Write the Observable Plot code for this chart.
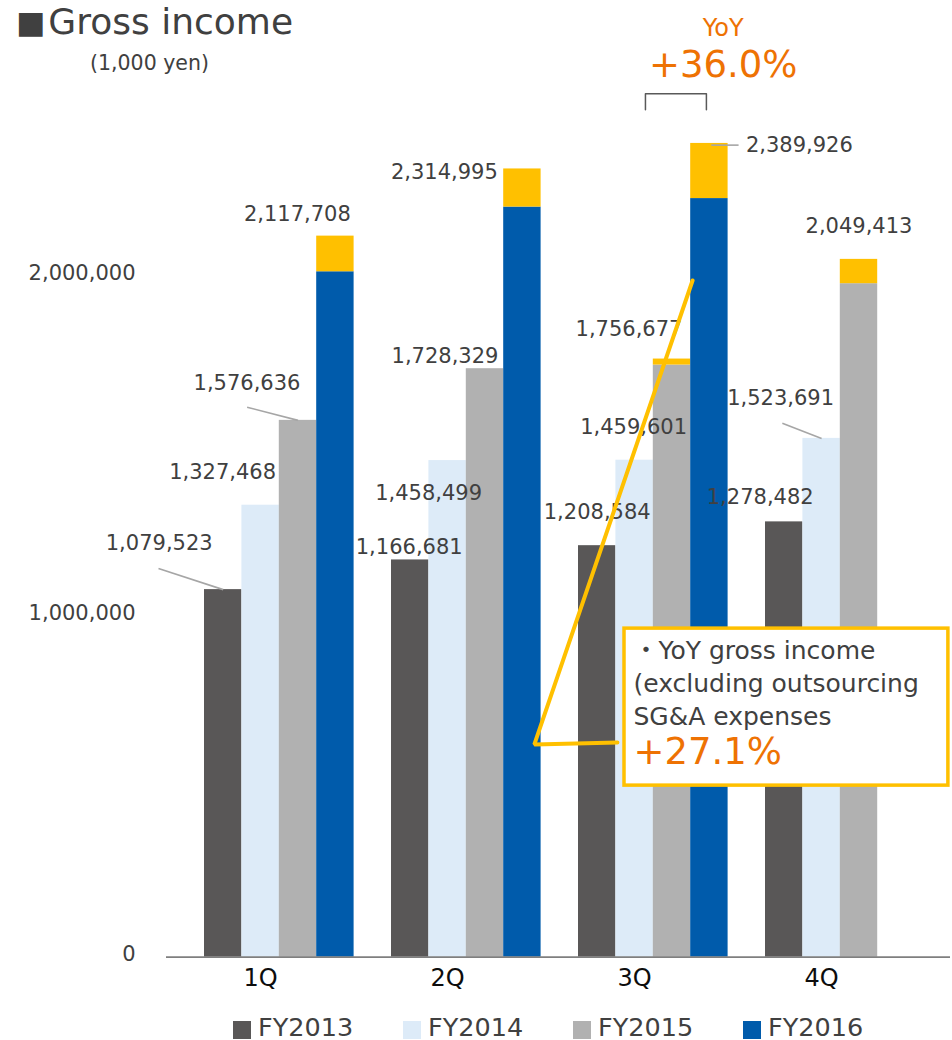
<!DOCTYPE html>
<html>
<head>
<meta charset="utf-8">
<script src="https://cdn.jsdelivr.net/npm/d3@7"></script>
<script src="https://cdn.jsdelivr.net/npm/@observablehq/plot@0.6"></script>
<style>
  html, body { margin: 0; padding: 0; background: #fff; }
  body { width: 952px; height: 1040px; overflow: hidden; font-family: "DejaVu Sans", "Noto Sans CJK JP", sans-serif; }
  #wrap { position: relative; width: 952px; }
  #title { position: absolute; left: 16px; top: 0px; font-size: 36px; color: #404040; white-space: nowrap; line-height: 44px; }
  #title .sq { font-size: 31px; margin-right: 3px; position: relative; top: -1px; }
  #unit { position: absolute; left: 90px; top: 50px; font-size: 20.5px; color: #404040; line-height: 26px; }
  #legend { display: flex; padding-left: 233px; height: 28px; margin-top: 3px; }
  #legend .item { width: 170px; display: flex; align-items: center; font-size: 25.5px; color: #404040; line-height: 28px; white-space: nowrap; }
  #legend .sw { display: inline-block; width: 18px; height: 18px; margin-right: 7px; margin-top: 5px; }
</style>
</head>
<body>
<div id="wrap">
  <div id="chart"></div>
  <div id="title"><span class="sq">■</span>Gross income</div>
  <div id="unit">(1,000 yen)</div>
  <div id="legend"></div>
</div>
<script>
// ---- data (1,000 yen) ----
const quarters = ["1Q", "2Q", "3Q", "4Q"];
const seriesNames = ["FY2013", "FY2014", "FY2015", "FY2016"];
const fy2013 = [1079523, 1166681, 1208584, 1278482];
const fy2014 = [1327468, 1458499, 1459601, 1523691];
const fy2015 = [1576636, 1728329, 1756677, 2049413];
const fy2016 = [2117708, 2314995, 2389926, null];
// gross income excluding outsourcing SG&A expenses (part below the yellow cap)
const fy2015Excl = [null, null, 1739000, 1978000];
const fy2016Excl = [2013000, 2203000, 2228000, null];
const yAxisTicks = [0, 1000000, 2000000];
const yoyLabel = "YoY";
const yoyValue = "+36.0%";
const calloutLines = ["・YoY gross income", "(excluding outsourcing", "SG&A expenses"];
const calloutValue = "+27.1%";
const outsourcingName = "Outsourcing SG&A";

// ---- styles ----
const colors = ["#595757", "#DDEBF8", "#B1B1B1", "#005BAB", "#FFC000"];
const orange = "#EE7203";
const textColor = "#404040";
const font = "'DejaVu Sans', 'Noto Sans CJK JP', sans-serif";

const totals = [fy2013, fy2014, fy2015, fy2016];
const excls = [null, null, fy2015Excl, fy2016Excl];
const slotsPerGroup = 5; // one empty slot + four series per quarter

const bars = [];
const labels = [];
quarters.forEach((q, qi) => {
  seriesNames.forEach((s, si) => {
    const total = totals[si][qi];
    if (total == null) return;
    const x1 = qi * slotsPerGroup + si + 1;
    const excl = excls[si] ? excls[si][qi] : null;
    bars.push({key: q + "|" + s, x1, x2: x1 + 1, y1: 0, y2: excl ?? total, part: s});
    if (excl != null) bars.push({key: q + "|" + s + "|o", x1, x2: x1 + 1, y1: excl, y2: total, part: outsourcingName});
    labels.push({key: q + "|" + s, x: x1 + 0.5, y: total, text: d3.format(",")(total)});
  });
});

// label nudges in pixels (layout)
const labelNudge = {
  "1Q|FY2013": [-64, -46], "1Q|FY2014": [-38, -33], "1Q|FY2015": [-51, -37], "1Q|FY2016": [-38, -22],
  "2Q|FY2013": [-1, -13], "2Q|FY2014": [-19, 33], "2Q|FY2015": [-40, -12], "2Q|FY2016": [-78, 3],
  "3Q|FY2013": [0, -33], "3Q|FY2014": [-1, -33], "3Q|FY2015": [-43, -30], "3Q|FY2016": [90, 2],
  "4Q|FY2013": [-24, -25], "4Q|FY2014": [-41, -40], "4Q|FY2015": [0, -33]
};
// leader lines: start offset from bar-top centre (in slots, in value units)
const leaderSpec = [
  {key: "1Q|FY2013", ds: -1.73, dv: 62000},
  {key: "1Q|FY2015", ds: -1.36, dv: 38700},
  {key: "4Q|FY2014", ds: -1.05, dv: 44600}
];
const labelByKey = Object.fromEntries(labels.map(l => [l.key, l]));
const leaders = leaderSpec.map(({key, ds, dv}) => {
  const l = labelByKey[key];
  return {x1: l.x + ds, y1: l.y + dv, x2: l.x, y2: l.y};
});
const l3 = labelByKey["3Q|FY2016"];
leaders.push({x1: l3.x + 0.05, y1: l3.y - 5000, x2: l3.x + 0.78, y2: l3.y - 5000});

// annotations placed in data units, relative to the 3Q group
const g3 = 2 * slotsPerGroup;
const bracket = [
  {x: g3 + 2.79, y: 2488800}, {x: g3 + 2.79, y: 2535800},
  {x: g3 + 4.42, y: 2535800}, {x: g3 + 4.42, y: 2488800}
];
const pointer = [
  {x: g3 + 2.04, y: 630800}, {x: g3 - 0.18, y: 624800}, {x: g3 + 4.05, y: 1987400}
];
const box = {x1: g3 + 2.23, x2: g3 + 10.89, y1: 503900, y2: 965000};
const boxTextX = g3 + 2.47;
const boxTextY = [898700, 802900, 704800];

const marks = [
  Plot.rectY(bars, {x1: "x1", x2: "x2", y1: "y1", y2: "y2", fill: "part"}),
  Plot.ruleY([0], {stroke: "#7f7f7f", strokeWidth: 1.8}),
  Plot.axisY(yAxisTicks, {tickFormat: d3.format(","), tickSize: 0, tickPadding: 31, dy: -3, fontSize: 21, fill: textColor, label: null}),
  Plot.axisX(quarters.map((q, i) => i * slotsPerGroup + 2.5), {
    tickFormat: d => quarters[Math.round((d - 2.5) / slotsPerGroup)],
    tickSize: 0, tickPadding: 11, fontSize: 24, fill: "#0d0d0d", label: null
  }),
  Plot.link(leaders, {x1: "x1", y1: "y1", x2: "x2", y2: "y2", stroke: "#A6A6A6", strokeWidth: 1.6}),
  ...labels.map(l => Plot.text([l], {
    x: "x", y: "y", text: "text", dx: labelNudge[l.key][0], dy: labelNudge[l.key][1],
    fontSize: 21, fill: textColor
  })),
  Plot.line(pointer, {x: "x", y: "y", stroke: "#FFC000", strokeWidth: 4, strokeLinejoin: "miter"}),
  Plot.rect([box], {x1: "x1", x2: "x2", y1: "y1", y2: "y2", fill: "white", stroke: "#FFC000", strokeWidth: 3.5}),
  Plot.text(calloutLines.map((t, i) => ({t, y: boxTextY[i]})), {x: boxTextX, y: "y", text: "t", textAnchor: "start", fontSize: 25, fill: textColor}),
  Plot.text([calloutValue], {x: boxTextX, y: 602100, text: d => d, textAnchor: "start", fontSize: 37, fill: orange}),
  Plot.line(bracket, {x: "x", y: "y", stroke: "#595959", strokeWidth: 1.5}),
  Plot.text([yoyLabel], {x: g3 + 4.87, y: 2727500, text: d => d, fontSize: 24, fill: orange}),
  Plot.text([yoyValue], {x: g3 + 4.87, y: 2618800, text: d => d, fontSize: 37, fill: orange})
];

const chart = Plot.plot({
  width: 952,
  height: 1010,
  marginLeft: 166,
  marginRight: 2,
  marginTop: 0,
  marginBottom: 53,
  x: {domain: [0, 20], range: [166.6, 914.6]},
  y: {domain: [0, 2000000], range: [956.7, 275.7]},
  color: {domain: [...seriesNames, outsourcingName], range: colors},
  style: {fontFamily: font, background: "white", color: textColor},
  marks
});
document.getElementById("chart").appendChild(chart);

const legend = document.getElementById("legend");
seriesNames.forEach((s, i) => {
  const item = document.createElement("div");
  item.className = "item";
  const sw = document.createElement("span");
  sw.className = "sw";
  sw.style.background = colors[i];
  item.appendChild(sw);
  item.appendChild(document.createTextNode(s));
  legend.appendChild(item);
});
</script>
</body>
</html>
